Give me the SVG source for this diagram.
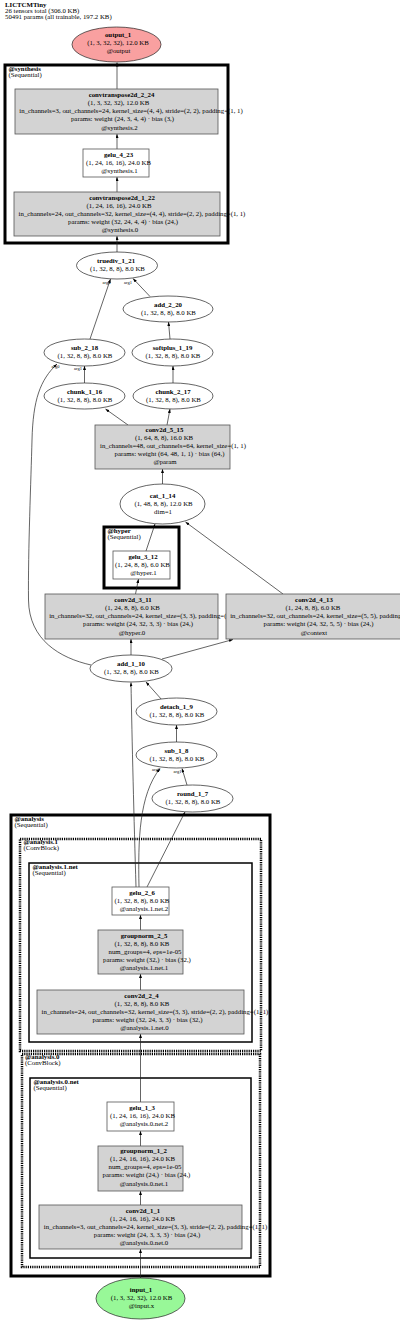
<svg xmlns="http://www.w3.org/2000/svg" width="400" height="1320" viewBox="0 0 400 1320">
<style>
text{font-family:"Liberation Serif","Times New Roman",serif;font-size:6.8px;fill:#000}
.m{text-anchor:middle}
.b{font-weight:bold}
.el{font-size:4.5px;text-anchor:middle}
.cl{fill:none;stroke:#000;stroke-width:3}
.cd{fill:none;stroke:#000;stroke-width:2.5;stroke-dasharray:1.2,1}
.cn{fill:none;stroke:#000;stroke-width:1.5}
.e{fill:none;stroke:#222;stroke-width:0.7;marker-end:url(#ah)}
.g{fill:#d3d3d3;stroke:#555;stroke-width:0.8}
.w{fill:#fff;stroke:#555;stroke-width:0.8}
.o{fill:#fff;stroke:#222;stroke-width:0.7}
</style>
<defs>
<marker id="ah" markerWidth="4" markerHeight="3" refX="4" refY="1.5" orient="auto" markerUnits="userSpaceOnUse"><path d="M0,0 L4,1.5 L0,3 z" fill="#000"/></marker>
</defs>
<rect width="400" height="1320" fill="#fff"/>
<g id="title">
<text x="5" y="7.3" class="b">LICTCMTiny</text>
<text x="5" y="13.2">26 tensors total (306.0 KB)</text>
<text x="5" y="19.1">50491 params (all trainable, 197.2 KB)</text>
</g>
<g id="clusters">
<g id="cluster_synthesis"><rect class="cl" x="5" y="65" width="223" height="178"/><text x="8.5" y="71" class="b">@synthesis</text><text x="8.5" y="77">(Sequential)</text></g>
<g id="cluster_hyper"><rect class="cl" x="104" y="527" width="75" height="61"/><text x="107.5" y="533" class="b">@hyper</text><text x="107.5" y="539">(Sequential)</text></g>
<g id="cluster_analysis"><rect class="cl" x="11" y="815" width="259" height="461"/><text x="14.5" y="821" class="b">@analysis</text><text x="14.5" y="827">(Sequential)</text></g>
<g id="cluster_analysis_1"><rect class="cd" x="20" y="839" width="241" height="212"/><text x="23.5" y="844" class="b">@analysis.1</text><text x="23.5" y="850">(ConvBlock)</text></g>
<g id="cluster_analysis_1_net"><rect class="cn" x="29" y="863" width="223" height="179"/><text x="32.5" y="869" class="b">@analysis.1.net</text><text x="32.5" y="875">(Sequential)</text></g>
<g id="cluster_analysis_0"><rect class="cd" x="22" y="1054" width="238" height="213"/><text x="25" y="1059" class="b">@analysis.0</text><text x="25" y="1065">(ConvBlock)</text></g>
<g id="cluster_analysis_0_net"><rect class="cn" x="30" y="1078" width="221" height="180"/><text x="33.5" y="1084" class="b">@analysis.0.net</text><text x="33.5" y="1090">(Sequential)</text></g>
</g>
<g id="edges">
<path class="e" d="M117,89 L117,62.5"/>
<path class="e" d="M117,149 L117,134"/>
<path class="e" d="M117,192 L117,177"/>
<path class="e" d="M117,252 L117,236"/>
<path class="e" d="M90,339 L110.5,279"/>
<path class="e" d="M150,296.5 L133,278.5"/>
<path class="e" d="M170,339 L168.5,322"/>
<path class="e" d="M173,383 L173,366"/>
<path class="e" d="M84.5,383 L84.5,366"/>
<path class="e" d="M91,665 C60,658 29,640 28.5,600 C28,550 31,480 32,440 C33,400 40,380 57,364"/>
<path class="e" d="M128,425 L105.5,409"/>
<path class="e" d="M167,425 L170,409"/>
<path class="e" d="M162.5,484 L162.5,469"/>
<path class="e" d="M146,551 L155,524"/>
<path class="e" d="M283,594 L185.5,522"/>
<path class="e" d="M135.5,594 L138.5,579"/>
<path class="e" d="M131,655 L131,639"/>
<path class="e" d="M162,659 L233,639.5"/>
<path class="e" d="M162,700 L146,682"/>
<path class="e" d="M176.5,742 L176.5,725"/>
<path class="e" d="M139,887 C138,840 139,795 160,768.5"/>
<path class="e" d="M187,785 L182,768.5"/>
<path class="e" d="M147,887 L185,812"/>
<path class="e" d="M136,887 C134,820 132,740 131,682.5"/>
<path class="e" d="M140.5,930 L140.5,915"/>
<path class="e" d="M140.5,990 L140.5,974"/>
<path class="e" d="M140.5,1102 L140.5,1034"/>
<path class="e" d="M140.5,1146 L140.5,1131"/>
<path class="e" d="M140.5,1205 L140.5,1191"/>
<path class="e" d="M140.5,1278 L140.5,1249"/>
<text class="el" x="106.5" y="283.5">arg0</text>
<text class="el" x="128" y="283.5">arg1</text>
<text class="el" x="55.5" y="367.5">arg0</text>
<text class="el" x="78" y="370">arg1</text>
<text class="el" x="156" y="771">arg0</text>
<text class="el" x="177.5" y="772.5">arg1</text>
</g>
<g id="output_1"><ellipse cx="116.5" cy="44.5" rx="44.5" ry="17.5" fill="#f9a0a0" stroke="#222" stroke-width="0.7"/>
<text class="m b" x="118" y="36.5">output_1</text><text class="m" x="118" y="44.6">(1, 3, 32, 32), 12.0 KB</text><text class="m" x="118.5" y="52.7">@output</text></g>
<g id="convtranspose2d_2_24"><rect class="g" x="15" y="89" width="203" height="45"/>
<text class="m b" x="121.5" y="97.1">convtranspose2d_2_24</text><text class="m" x="118.5" y="105.2">(1, 3, 32, 32), 12.0 KB</text><text class="m" x="131" y="113.3">in_channels=3, out_channels=24, kernel_size=(4, 4), stride=(2, 2), padding=(1, 1)</text><text class="m" x="122.5" y="121.4">params: weight (24, 3, 4, 4) · bias (3,)</text><text class="m" x="119.5" y="129.5">@synthesis.2</text></g>
<g id="gelu_4_23"><rect class="w" x="83" y="149" width="66" height="28"/>
<text class="m b" x="118.5" y="156.7">gelu_4_23</text><text class="m" x="118.5" y="164.8">(1, 24, 16, 16), 24.0 KB</text><text class="m" x="119.5" y="172.9">@synthesis.1</text></g>
<g id="convtranspose2d_1_22"><rect class="g" x="14" y="192" width="206" height="44"/>
<text class="m b" x="122" y="199.6">convtranspose2d_1_22</text><text class="m" x="119" y="207.7">(1, 24, 16, 16), 24.0 KB</text><text class="m" x="132" y="215.8">in_channels=24, out_channels=32, kernel_size=(4, 4), stride=(2, 2), padding=(1, 1)</text><text class="m" x="123" y="223.9">params: weight (32, 24, 4, 4) · bias (24,)</text><text class="m" x="120" y="232">@synthesis.0</text></g>
<g id="truediv_1_21"><ellipse class="o" cx="117" cy="265.5" rx="40.5" ry="13.5"/>
<text class="m b" x="116" y="263.25">truediv_1_21</text><text class="m" x="117.5" y="271.35">(1, 32, 8, 8), 8.0 KB</text></g>
<g id="add_2_20"><ellipse class="o" cx="168" cy="309" rx="45" ry="13"/>
<text class="m b" x="168" y="306.75">add_2_20</text><text class="m" x="168.5" y="314.85">(1, 32, 8, 8), 8.0 KB</text></g>
<g id="sub_2_18"><ellipse class="o" cx="84.5" cy="352.5" rx="40.5" ry="13.5"/>
<text class="m b" x="84.5" y="350.25">sub_2_18</text><text class="m" x="85" y="358.35">(1, 32, 8, 8), 8.0 KB</text></g>
<g id="softplus_1_19"><ellipse class="o" cx="172.5" cy="352.5" rx="40.5" ry="13.5"/>
<text class="m b" x="172.5" y="350.25">softplus_1_19</text><text class="m" x="173" y="358.35">(1, 32, 8, 8), 8.0 KB</text></g>
<g id="chunk_1_16"><ellipse class="o" cx="84.5" cy="396" rx="40.5" ry="13"/>
<text class="m b" x="84.5" y="393.75">chunk_1_16</text><text class="m" x="85" y="401.85">(1, 32, 8, 8), 8.0 KB</text></g>
<g id="chunk_2_17"><ellipse class="o" cx="173" cy="396" rx="40" ry="13"/>
<text class="m b" x="173" y="393.75">chunk_2_17</text><text class="m" x="173.5" y="401.85">(1, 32, 8, 8), 8.0 KB</text></g>
<g id="conv2d_5_15"><rect class="g" x="95" y="425" width="135" height="44"/>
<text class="m b" x="164.5" y="431.8">conv2d_5_15</text><text class="m" x="164" y="439.9">(1, 64, 8, 8), 16.0 KB</text><text class="m" x="173" y="448">in_channels=48, out_channels=64, kernel_size=(1, 1)</text><text class="m" x="169.5" y="456.1">params: weight (64, 48, 1, 1) · bias (64,)</text><text class="m" x="165" y="464.2">@param</text></g>
<g id="cat_1_14"><ellipse class="o" cx="162.5" cy="504" rx="42.5" ry="20"/>
<text class="m b" x="162.5" y="497.7">cat_1_14</text><text class="m" x="163.5" y="505.8">(1, 48, 8, 8), 12.0 KB</text><text class="m" x="163" y="513.9">dim=1</text></g>
<g id="gelu_3_12"><rect class="w" x="113" y="551" width="57" height="28"/>
<text class="m b" x="143" y="558.7">gelu_3_12</text><text class="m" x="142.5" y="566.8">(1, 24, 8, 8), 6.0 KB</text><text class="m" x="143.5" y="574.9">@hyper.1</text></g>
<g id="conv2d_3_11"><rect class="g" x="45" y="594" width="173" height="45"/>
<text class="m b" x="133" y="602.1">conv2d_3_11</text><text class="m" x="132.5" y="610.2">(1, 24, 8, 8), 6.0 KB</text><text class="m" x="144" y="618.3">in_channels=32, out_channels=24, kernel_size=(3, 3), padding=(1, 1)</text><text class="m" x="138" y="626.4">params: weight (24, 32, 3, 3) · bias (24,)</text><text class="m" x="132" y="634.5">@hyper.0</text></g>
<g id="conv2d_4_13"><rect class="g" x="226" y="594" width="176" height="45"/>
<text class="m b" x="314" y="602.1">conv2d_4_13</text><text class="m" x="313" y="610.2">(1, 24, 8, 8), 6.0 KB</text><text class="m" x="325" y="618.3">in_channels=32, out_channels=24, kernel_size=(5, 5), padding=(2, 2)</text><text class="m" x="318.5" y="626.4">params: weight (24, 32, 5, 5) · bias (24,)</text><text class="m" x="314" y="634.5">@context</text></g>
<g id="add_1_10"><ellipse class="o" cx="131" cy="668.5" rx="41" ry="13.5"/>
<text class="m b" x="131" y="666.25">add_1_10</text><text class="m" x="131.5" y="674.35">(1, 32, 8, 8), 8.0 KB</text></g>
<g id="detach_1_9"><ellipse class="o" cx="176.5" cy="711.5" rx="40.5" ry="13.5"/>
<text class="m b" x="176.5" y="709.25">detach_1_9</text><text class="m" x="177" y="717.35">(1, 32, 8, 8), 8.0 KB</text></g>
<g id="sub_1_8"><ellipse class="o" cx="176.5" cy="755" rx="40.5" ry="13"/>
<text class="m b" x="176.5" y="752.75">sub_1_8</text><text class="m" x="177" y="760.85">(1, 32, 8, 8), 8.0 KB</text></g>
<g id="round_1_7"><ellipse class="o" cx="192.5" cy="798.5" rx="40.5" ry="13.5"/>
<text class="m b" x="192.5" y="796.25">round_1_7</text><text class="m" x="193" y="804.35">(1, 32, 8, 8), 8.0 KB</text></g>
<g id="gelu_2_6"><rect class="w" x="112" y="887" width="57" height="28"/>
<text class="m b" x="142" y="894.7">gelu_2_6</text><text class="m" x="142" y="902.8">(1, 32, 8, 8), 8.0 KB</text><text class="m" x="144" y="910.9">@analysis.1.net.2</text></g>
<g id="groupnorm_2_5"><rect class="g" x="98" y="930" width="85" height="44"/>
<text class="m b" x="144" y="937.6">groupnorm_2_5</text><text class="m" x="142" y="945.7">(1, 32, 8, 8), 8.0 KB</text><text class="m" x="145" y="953.8">num_groups=4, eps=1e-05</text><text class="m" x="147" y="961.9">params: weight (32,) · bias (32,)</text><text class="m" x="144" y="970">@analysis.1.net.1</text></g>
<g id="conv2d_2_4"><rect class="g" x="37" y="990" width="207" height="44"/>
<text class="m b" x="141.5" y="997.6">conv2d_2_4</text><text class="m" x="142" y="1005.7">(1, 32, 8, 8), 8.0 KB</text><text class="m" x="155" y="1013.8">in_channels=24, out_channels=32, kernel_size=(3, 3), stride=(2, 2), padding=(1, 1)</text><text class="m" x="147.5" y="1021.9">params: weight (32, 24, 3, 3) · bias (32,)</text><text class="m" x="144.5" y="1030">@analysis.1.net.0</text></g>
<g id="gelu_1_3"><rect class="w" x="107" y="1102" width="67" height="29"/>
<text class="m b" x="142" y="1110.2">gelu_1_3</text><text class="m" x="142.5" y="1118.3">(1, 24, 16, 16), 24.0 KB</text><text class="m" x="144" y="1126.4">@analysis.0.net.2</text></g>
<g id="groupnorm_1_2"><rect class="g" x="98" y="1146" width="85" height="45"/>
<text class="m b" x="143.5" y="1153.1">groupnorm_1_2</text><text class="m" x="142.5" y="1161.2">(1, 24, 16, 16), 24.0 KB</text><text class="m" x="145" y="1169.3">num_groups=4, eps=1e-05</text><text class="m" x="146.5" y="1177.4">params: weight (24,) · bias (24,)</text><text class="m" x="144" y="1185.5">@analysis.0.net.1</text></g>
<g id="conv2d_1_1"><rect class="g" x="39" y="1205" width="203" height="44"/>
<text class="m b" x="143" y="1212.6">conv2d_1_1</text><text class="m" x="142.5" y="1220.7">(1, 24, 16, 16), 24.0 KB</text><text class="m" x="155.5" y="1228.8">in_channels=3, out_channels=24, kernel_size=(3, 3), stride=(2, 2), padding=(1, 1)</text><text class="m" x="147" y="1236.9">params: weight (24, 3, 3, 3) · bias (24,)</text><text class="m" x="144" y="1245">@analysis.0.net.0</text></g>
<g id="input_1"><ellipse cx="140.5" cy="1298.5" rx="44.5" ry="20.5" fill="#98f898" stroke="#222" stroke-width="0.7"/>
<text class="m b" x="141" y="1292.2">input_1</text><text class="m" x="141.5" y="1300.3">(1, 3, 32, 32), 12.0 KB</text><text class="m" x="141.5" y="1308.4">@input.x</text></g>
</svg>
